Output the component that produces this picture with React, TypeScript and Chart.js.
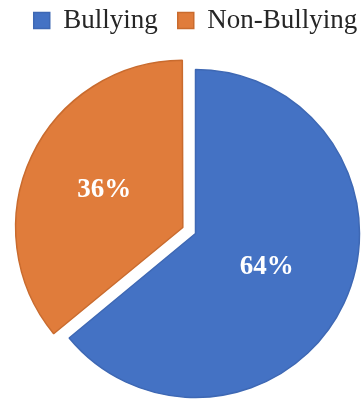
import React, { useEffect, useRef } from 'react';
import { Chart, registerables } from 'chart.js';

Chart.register(...registerables);

const categories = ['Bullying', 'Non-Bullying'];
const values = [64, 36];
const sliceColors = ['#4472C4', '#E07C3B'];
const sliceBorders = ['#3E68B4', '#C96B2E'];
const sliceOffsets = [0, 56];

const sliceLabelPlugin = {
  id: 'sliceLabels',
  afterDatasetsDraw(chart: any) {
    const ctx = chart.ctx;
    const meta = chart.getDatasetMeta(0);
    ctx.save();
    ctx.font = 'bold 27px "Liberation Serif", serif';
    ctx.fillStyle = '#FFFFFF';
    ctx.textAlign = 'center';
    ctx.textBaseline = 'middle';
    meta.data.forEach((arc: any, i: number) => {
      const { x, y, startAngle, endAngle, outerRadius } = arc.getProps(
        ['x', 'y', 'startAngle', 'endAngle', 'outerRadius'],
        true
      );
      const mid = (startAngle + endAngle) / 2;
      const shift = (arc.options.offset || 0) / 4;
      const r = outerRadius * (i === 0 ? 0.48 : 0.53) + shift;
      ctx.fillText(`${values[i]}%`, x + Math.cos(mid) * r, y + Math.sin(mid) * r);
    });
    ctx.restore();
  },
};

export default function App() {
  const canvasRef = useRef<HTMLCanvasElement | null>(null);

  useEffect(() => {
    if (!canvasRef.current) return;
    const chart = new Chart(canvasRef.current, {
      type: 'pie',
      data: {
        labels: categories,
        datasets: [
          {
            data: values,
            backgroundColor: sliceColors,
            borderColor: sliceBorders,
            borderWidth: 1.5,
            offset: sliceOffsets,
            hoverOffset: 0,
            radius: 164,
          } as any,
        ],
      },
      options: {
        responsive: false,
        animation: false,
        layout: { padding: { left: 0, right: 0, top: -13, bottom: 0 } },
        plugins: {
          legend: {
            position: 'top',
            labels: {
              font: { family: '"Liberation Serif", serif', size: 27 },
              color: '#262626',
              boxWidth: 16,
              boxHeight: 16,
              padding: 20,
            },
          },
          tooltip: { enabled: false },
        },
      },
      plugins: [sliceLabelPlugin],
    });
    return () => chart.destroy();
  }, []);

  return (
    <div style={{ position: 'fixed', left: 0, top: 0, width: 363, height: 403, overflow: 'hidden', background: '#fff' }}>
      <canvas ref={canvasRef} width={391} height={423} style={{ position: 'absolute', left: 0, top: 0 }} />
    </div>
  );
}
